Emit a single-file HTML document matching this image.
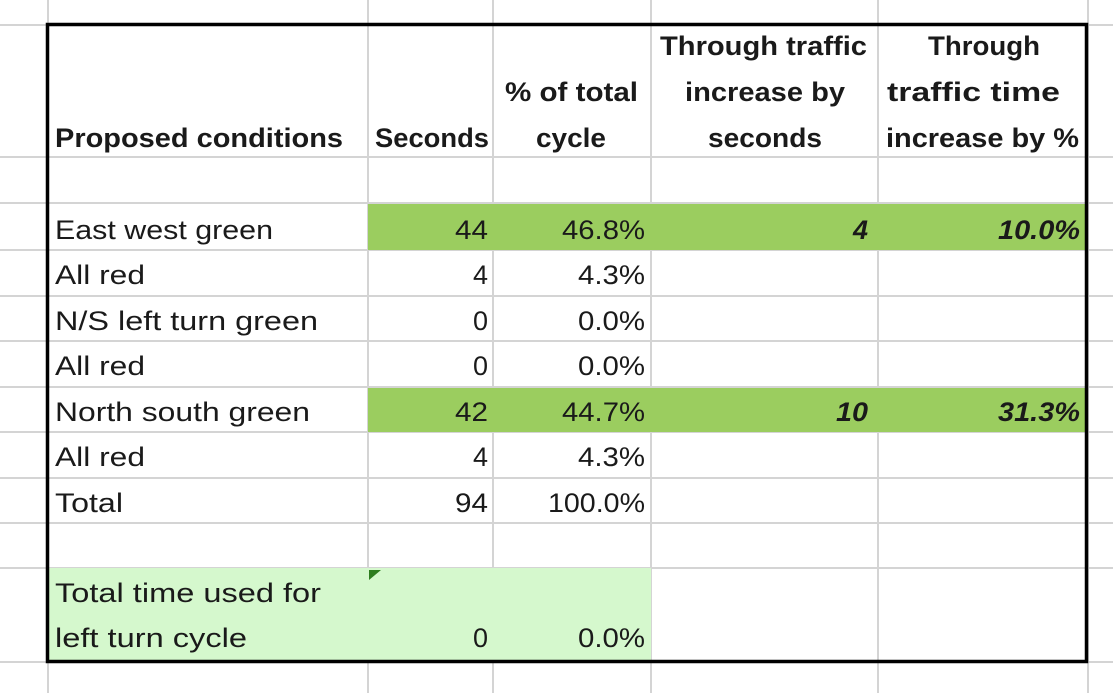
<!DOCTYPE html>
<html><head><meta charset="utf-8"><style>
html,body{margin:0;padding:0;background:#fff;width:1113px;height:693px;overflow:hidden}
svg text{font-family:"Liberation Sans",sans-serif;font-size:27px;fill:#1a1a1a}
.b{font-weight:bold}
.i{font-weight:bold;font-style:italic}
</style></head><body>
<svg width="1113" height="693" viewBox="0 0 1113 693" xmlns="http://www.w3.org/2000/svg">
<rect width="1113" height="693" fill="#fff"/>
<g stroke="#d4d4d4" stroke-width="2">
<line x1="48" y1="0" x2="48" y2="693"/>
<line x1="368" y1="0" x2="368" y2="693"/>
<line x1="493" y1="0" x2="493" y2="693"/>
<line x1="651" y1="0" x2="651" y2="693"/>
<line x1="878" y1="0" x2="878" y2="693"/>
<line x1="1088" y1="0" x2="1088" y2="693"/>
<line x1="0" y1="25" x2="1113" y2="25"/>
<line x1="0" y1="157" x2="1113" y2="157"/>
<line x1="0" y1="203" x2="1113" y2="203"/>
<line x1="0" y1="250" x2="1113" y2="250"/>
<line x1="0" y1="296" x2="1113" y2="296"/>
<line x1="0" y1="341" x2="1113" y2="341"/>
<line x1="0" y1="387" x2="1113" y2="387"/>
<line x1="0" y1="432" x2="1113" y2="432"/>
<line x1="0" y1="478" x2="1113" y2="478"/>
<line x1="0" y1="523" x2="1113" y2="523"/>
<line x1="0" y1="568" x2="1113" y2="568"/>
<line x1="0" y1="662" x2="1113" y2="662"/>
</g>
<rect x="368" y="204" width="719" height="46" fill="#9BCD5F"/>
<rect x="368" y="388" width="719" height="44" fill="#9BCD5F"/>
<rect x="49" y="568" width="602" height="94" fill="#D5F8CD"/>
<polygon points="369,570 381,570 369,580" fill="#2E7D1F"/>
<rect x="47.5" y="24.5" width="1039" height="637" fill="none" stroke="#000" stroke-width="3.5"/>
<!-- header -->
<text class="b" x="55" y="147" textLength="288" lengthAdjust="spacingAndGlyphs">Proposed conditions</text>
<text class="b" x="375" y="147" textLength="114" lengthAdjust="spacingAndGlyphs">Seconds</text>
<text class="b" x="505" y="101" textLength="133" lengthAdjust="spacingAndGlyphs">% of total</text>
<text class="b" x="536" y="147" textLength="70" lengthAdjust="spacingAndGlyphs">cycle</text>
<text class="b" x="660" y="55" textLength="207" lengthAdjust="spacingAndGlyphs">Through traffic</text>
<text class="b" x="685" y="101" textLength="160" lengthAdjust="spacingAndGlyphs">increase by</text>
<text class="b" x="708" y="147" textLength="114" lengthAdjust="spacingAndGlyphs">seconds</text>
<text class="b" x="928" y="55" textLength="112" lengthAdjust="spacingAndGlyphs">Through</text>
<text class="b" x="887" y="101" textLength="173" lengthAdjust="spacingAndGlyphs">traffic time</text>
<text class="b" x="886" y="147" textLength="193" lengthAdjust="spacingAndGlyphs">increase by %</text>
<!-- rows -->
<text x="55" y="239" textLength="218" lengthAdjust="spacingAndGlyphs">East west green</text>
<text x="455" y="239" textLength="33" lengthAdjust="spacingAndGlyphs">44</text><text x="562" y="239" textLength="83" lengthAdjust="spacingAndGlyphs">46.8%</text>
<text class="i" x="868" y="239" text-anchor="end">4</text><text class="i" x="998" y="239" textLength="82" lengthAdjust="spacingAndGlyphs">10.0%</text>

<text x="55" y="284" textLength="90" lengthAdjust="spacingAndGlyphs">All red</text>
<text x="488" y="284" text-anchor="end">4</text><text x="578" y="284" textLength="67" lengthAdjust="spacingAndGlyphs">4.3%</text>

<text x="55" y="330" textLength="263" lengthAdjust="spacingAndGlyphs">N/S left turn green</text>
<text x="488" y="330" text-anchor="end">0</text><text x="578" y="330" textLength="67" lengthAdjust="spacingAndGlyphs">0.0%</text>

<text x="55" y="375" textLength="90" lengthAdjust="spacingAndGlyphs">All red</text>
<text x="488" y="375" text-anchor="end">0</text><text x="578" y="375" textLength="67" lengthAdjust="spacingAndGlyphs">0.0%</text>

<text x="55" y="421" textLength="255" lengthAdjust="spacingAndGlyphs">North south green</text>
<text x="455" y="421" textLength="33" lengthAdjust="spacingAndGlyphs">42</text><text x="562" y="421" textLength="83" lengthAdjust="spacingAndGlyphs">44.7%</text>
<text class="i" x="836" y="421" textLength="32" lengthAdjust="spacingAndGlyphs">10</text><text class="i" x="998" y="421" textLength="82" lengthAdjust="spacingAndGlyphs">31.3%</text>

<text x="55" y="466" textLength="90" lengthAdjust="spacingAndGlyphs">All red</text>
<text x="488" y="466" text-anchor="end">4</text><text x="578" y="466" textLength="67" lengthAdjust="spacingAndGlyphs">4.3%</text>

<text x="55" y="512" textLength="68" lengthAdjust="spacingAndGlyphs">Total</text>
<text x="455" y="512" textLength="33" lengthAdjust="spacingAndGlyphs">94</text><text x="548" y="512" textLength="97" lengthAdjust="spacingAndGlyphs">100.0%</text>

<text x="55" y="602" textLength="266" lengthAdjust="spacingAndGlyphs">Total time used for</text>
<text x="55" y="647" textLength="192" lengthAdjust="spacingAndGlyphs">left turn cycle</text>
<text x="488" y="647" text-anchor="end">0</text><text x="578" y="647" textLength="67" lengthAdjust="spacingAndGlyphs">0.0%</text>
</svg>
</body></html>
